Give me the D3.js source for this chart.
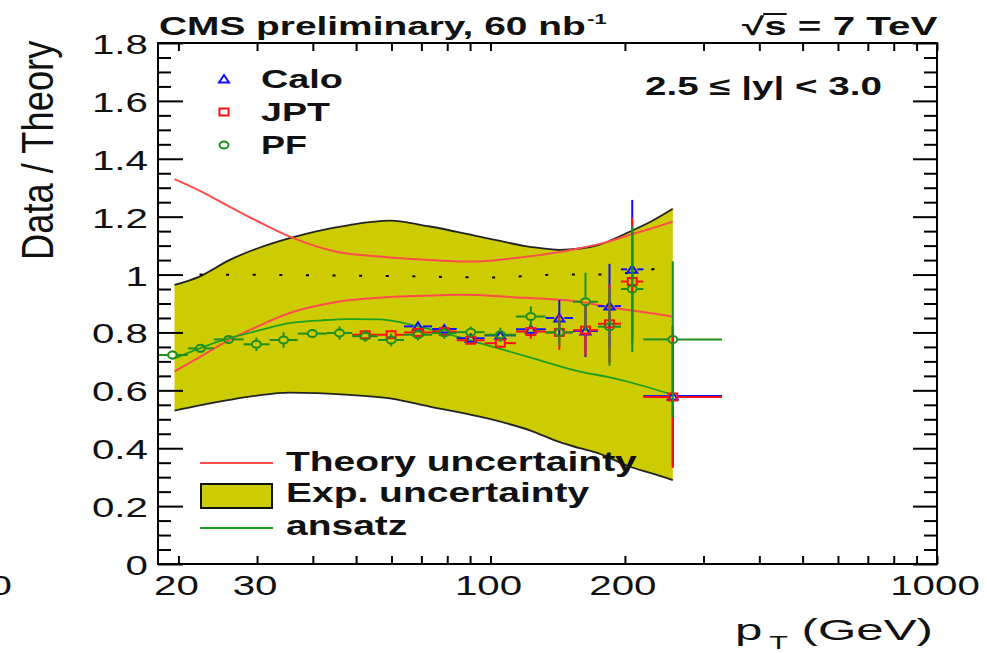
<!DOCTYPE html>
<html>
<head>
<meta charset="utf-8">
<script src="https://cdn.jsdelivr.net/npm/d3@7"></script>
<style>
  html, body { margin: 0; padding: 0; background: #fff; }
  svg { display: block; }
  text { font-family: "Liberation Sans", Arial, Helvetica, sans-serif; fill: #111; }
</style>
</head>
<body>
<svg id="chart" width="987" height="653"></svg>
<script>
// ---- pT binning (GeV) ----
const binLow    = [18, 21, 24, 28, 32, 37, 43, 49, 56, 64, 74, 84, 97, 114, 133, 153, 174, 196, 220];
const binHigh   = [21, 24, 28, 32, 37, 43, 49, 56, 64, 74, 84, 97, 114, 133, 153, 174, 196, 220, 330];
const binCenter = [19.4, 22.4, 25.9, 29.9, 34.4, 39.9, 45.9, 52.4, 59.9, 68.8, 78.8, 90.3, 105.2, 123.1, 142.6, 163.2, 184.7, 207.7, 256];

// ---- Data / Theory ratios per jet type ----
const caloValue = [null, null, null, null, null, null, null, null, null,
  0.821, 0.812, 0.780, 0.790, 0.811, 0.850, 0.805, 0.891, 1.018, 0.580];
const caloError = [null, null, null, null, null, null, null, null, null,
  0.010, 0.010, 0.012, 0.012, 0.020, 0.062, 0.090, 0.146, 0.240, 0.243];
const jptValue = [null, null, null, null, null, null, null,
  0.792, 0.792, 0.800, 0.803, 0.773, 0.763, 0.803, 0.800, 0.808, 0.830, 0.976, 0.577];
const jptError = [null, null, null, null, null, null, null,
  0.010, 0.012, 0.012, 0.012, 0.012, 0.017, 0.025, 0.060, 0.088, 0.135, 0.220, 0.245];
const pfValue = [0.722, 0.745, 0.776, 0.759, 0.774, 0.796, 0.798, 0.787, 0.774, 0.792,
  0.798, 0.801, 0.792, 0.855, 0.800, 0.906, 0.820, 0.950, 0.776];
const pfError = [0.016, 0.015, 0.015, 0.023, 0.027, 0.015, 0.023, 0.020, 0.022, 0.020,
  0.020, 0.020, 0.025, 0.035, 0.045, 0.100, 0.135, 0.218, 0.270];

// ---- Experimental uncertainty band ----
const bandPt  = [19.6, 22.3, 26.0, 30, 35.5, 48.3, 59.5, 73.1, 94.6, 122.5, 143, 158.5, 174, 205, 230, 256];
const bandUp  = [0.964, 0.993, 1.05, 1.09, 1.126, 1.171, 1.186, 1.166, 1.131, 1.096, 1.085, 1.09, 1.102, 1.148, 1.185, 1.227];
const bandLow = [0.530, 0.548, 0.567, 0.582, 0.592, 0.584, 0.572, 0.544, 0.509, 0.462, 0.421, 0.400, 0.383, 0.336, 0.313, 0.290];

// ---- Theory uncertainty envelope ----
const theoryPt  = [19.6, 22.3, 26.0, 30, 35.5, 45.2, 56.5, 62.9, 75, 86.7, 100, 112.2, 129.6, 158.5, 182, 205, 230, 256];
const theoryUp  = [1.33, 1.29, 1.235, 1.185, 1.131, 1.079, 1.062, 1.056, 1.049, 1.045, 1.048, 1.056, 1.068, 1.091, 1.112, 1.137, 1.160, 1.183];
const theoryLow = [0.665, 0.715, 0.774, 0.82, 0.867, 0.905, 0.92, 0.924, 0.928, 0.930, 0.927, 0.922, 0.917, 0.906, 0.889, 0.877, 0.866, 0.855];

// ---- Ansatz fit ----
const ansatzPt  = [19.6, 22.3, 26, 30, 35.5, 42, 48.3, 56.5, 62.9, 70, 80, 94.6, 122.5, 158.5, 182, 220, 256];
const ansatzVal = [0.71, 0.745, 0.78, 0.805, 0.832, 0.842, 0.846, 0.845, 0.835, 0.818, 0.795, 0.763, 0.714, 0.665, 0.647, 0.615, 0.584];

// ---- Unity reference (dotted) ----
const refPt  = [22.3, 60, 100, 145, 180, 235];
const refVal = [1.0, 0.995, 0.99, 1.0, 1.0, 1.02];

// ---- Axis ticks ----
const xTickValues = [20, 30, 40, 50, 60, 70, 80, 90, 100, 200, 300, 400, 500, 600, 700, 800, 900, 1000];
const xTickLabels = [20, 30, 100, 200, 1000];
const yMajorTicks = [0, 0.2, 0.4, 0.6, 0.8, 1.0, 1.2, 1.4, 1.6, 1.8];
const yMinorTicks = d3.range(0, 37).map(i => i * 0.05).filter(v => Math.abs(v * 5 - Math.round(v * 5)) > 1e-6);
const yTickText = d => (d === 0 ? "0" : d === 1 ? "1" : d3.format(".1f")(d));

const svg = d3.select("#chart");
const L = 158, R = 937, T = 43, B = 564;
const x = d3.scaleLog().domain([18, 1000]).range([L, R]);
const y = d3.scaleLinear().domain([0, 1.8]).range([B, T]);

const COLORS = { calo: "#1010ff", jpt: "#ff1010", pf: "#1e8f1e", band: "#cccc00", theory: "#ff4d4d", ansatz: "#1f9f1f" };
const LABEL_SX = 1.44;

// Place a text so that its box spans [x0, x1] horizontally, baseline at yb.
function fitText(parent, parts, x0, x1, yb, size, weight) {
  const t = parent.append("text").attr("font-size", size).attr("font-weight", weight || "normal");
  parts.forEach(p => {
    const s = t.append("tspan").text(p.t);
    if (p.size) s.attr("font-size", p.size);
    if (p.dy) s.attr("dy", p.dy);
    if (p.dx) s.attr("dx", p.dx);
  });
  const bb = t.node().getBBox();
  const sx = (x1 - x0) / bb.width;
  const tx = x0 - bb.x * sx;
  t.attr("transform", `translate(${tx},${yb}) scale(${sx},1)`);
  return { node: t, sx, tx };
}

const plot = svg.append("g");

// Experimental band
const bandData = bandPt.map((p, i) => ({ p, lo: bandLow[i], hi: bandUp[i] }));
plot.append("path").datum(bandData)
  .attr("fill", COLORS.band)
  .attr("d", d3.area().x(d => x(d.p)).y0(d => y(d.lo)).y1(d => y(d.hi)).curve(d3.curveMonotoneX));
["hi", "lo"].forEach(k => {
  plot.append("path").datum(bandData)
    .attr("fill", "none").attr("stroke", "#222").attr("stroke-width", 1.8)
    .attr("d", d3.line().x(d => x(d.p)).y(d => y(d[k])).curve(d3.curveMonotoneX));
});

// Theory envelope
[theoryUp, theoryLow].forEach(arr => {
  plot.append("path").datum(theoryPt.map((p, i) => [p, arr[i]]))
    .attr("fill", "none").attr("stroke", COLORS.theory).attr("stroke-width", 2)
    .attr("d", d3.line().x(d => x(d[0])).y(d => y(d[1])).curve(d3.curveMonotoneX));
});

// Ansatz
plot.append("path").datum(ansatzPt.map((p, i) => [p, ansatzVal[i]]))
  .attr("fill", "none").attr("stroke", COLORS.ansatz).attr("stroke-width", 1.8)
  .attr("d", d3.line().x(d => x(d[0])).y(d => y(d[1])).curve(d3.curveMonotoneX));

// Unity reference
plot.append("path").datum(refPt.map((p, i) => [p, refVal[i]]))
  .attr("fill", "none").attr("stroke", "#000").attr("stroke-width", 2)
  .attr("stroke-dasharray", "3,23.6")
  .attr("d", d3.line().x(d => x(d[0])).y(d => y(d[1])).curve(d3.curveMonotoneX));

// Markers
function drawMarker(g, kind, cx, cy, color) {
  if (kind === "square") {
    g.append("rect").attr("x", cx - 4.5).attr("y", cy - 3.5).attr("width", 9).attr("height", 7)
      .attr("fill", "none").attr("stroke", color).attr("stroke-width", 2);
  } else if (kind === "circle") {
    g.append("ellipse").attr("cx", cx).attr("cy", cy).attr("rx", 4.5).attr("ry", 3.5)
      .attr("fill", "none").attr("stroke", color).attr("stroke-width", 2);
  } else {
    g.append("path").attr("d", `M${cx - 5},${cy + 3.5}L${cx + 5},${cy + 3.5}L${cx},${cy - 4}Z`)
      .attr("fill", "none").attr("stroke", color).attr("stroke-width", 2);
  }
}

function drawSeries(vals, errs, color, kind) {
  const g = plot.append("g").attr("stroke", color).attr("stroke-width", 2);
  const seg = (x1, y1, x2, y2) => g.append("line").attr("x1", x1).attr("y1", y1).attr("x2", x2).attr("y2", y2);
  vals.forEach((v, i) => {
    if (v == null) return;
    const cx = x(binCenter[i]), cy = y(v);
    const xl = x(binLow[i]), xh = x(binHigh[i]);
    const yt = y(v + errs[i]), yb = y(v - errs[i]);
    const hw = 5, hh = 4;
    if (cx - hw > xl) seg(xl, cy, cx - hw, cy);
    if (xh > cx + hw) seg(cx + hw, cy, xh, cy);
    if (yt < cy - hh) seg(cx, yt, cx, cy - hh);
    if (yb > cy + hh) seg(cx, cy + hh, cx, yb);
    drawMarker(g, kind, cx, cy, color);
  });
}
drawSeries(caloValue, caloError, COLORS.calo, "triangle");
drawSeries(jptValue, jptError, COLORS.jpt, "square");
drawSeries(pfValue, pfError, COLORS.pf, "circle");

// Axes (ticks drawn inward, all four sides)
const axes = svg.append("g");
function styleAxis(sel) {
  sel.select(".domain").remove();
  sel.selectAll(".tick line").attr("stroke", "#000").attr("stroke-width", 2);
  sel.selectAll(".tick text").remove();
}
axes.append("g").attr("transform", `translate(0,${B})`)
  .call(d3.axisBottom(x).tickValues(xTickValues).tickSize(-8).tickFormat("")).call(styleAxis);
axes.append("g").attr("transform", `translate(0,${T})`)
  .call(d3.axisTop(x).tickValues(xTickValues).tickSize(-8).tickFormat("")).call(styleAxis);
axes.append("g").attr("transform", `translate(${L},0)`)
  .call(d3.axisLeft(y).tickValues(yMajorTicks).tickSize(-25).tickFormat("")).call(styleAxis);
axes.append("g").attr("transform", `translate(${L},0)`)
  .call(d3.axisLeft(y).tickValues(yMinorTicks).tickSize(-13).tickFormat("")).call(styleAxis);
axes.append("g").attr("transform", `translate(${R},0)`)
  .call(d3.axisRight(y).tickValues(yMajorTicks).tickSize(-24).tickFormat("")).call(styleAxis);
axes.append("g").attr("transform", `translate(${R},0)`)
  .call(d3.axisRight(y).tickValues(yMinorTicks).tickSize(-13).tickFormat("")).call(styleAxis);
axes.append("rect").attr("x", L).attr("y", T).attr("width", R - L).attr("height", B - T)
  .attr("fill", "none").attr("stroke", "#000").attr("stroke-width", 2);

// Tick labels
const labels = svg.append("g");
yMajorTicks.forEach(v => {
  labels.append("text").attr("font-size", 28).attr("text-anchor", "end")
    .attr("transform", `translate(148,${y(v) + 11}) scale(${LABEL_SX},1)`).text(yTickText(v));
});
xTickLabels.forEach(v => {
  labels.append("text").attr("font-size", 28).attr("text-anchor", "middle")
    .attr("transform", `translate(${x(v) - 2},595) scale(${LABEL_SX},1)`).text(v);
});
labels.append("text").attr("font-size", 28).attr("text-anchor", "end")
  .attr("transform", `translate(12,595) scale(${LABEL_SX},1)`).text("10");

// Axis titles
fitText(labels, [{ t: "p" }, { t: "T", size: 18, dy: 9, dx: 4 }, { t: " (GeV)", dy: -9 }], 735, 933, 640, 29);
{
  const t = labels.append("text").attr("font-size", 29).text("Data / Theory");
  const bb = t.node().getBBox();
  const sa = 220 / bb.width;
  t.attr("transform", `translate(53,${260 + sa * bb.x}) rotate(-90) scale(${sa},1.5)`);
}

// Header texts
fitText(labels, [{ t: "CMS preliminary, 60 nb" }, { t: "-1", size: 14, dy: -11, dx: 1 }], 159, 607, 35, 25, "bold");
{
  const r = fitText(labels, [{ t: "\u221As = 7 TeV" }], 742, 938, 35, 25, "bold");
  const n = r.node.node();
  const e0 = n.getExtentOfChar(0), e1 = n.getExtentOfChar(1);
  labels.append("line")
    .attr("x1", r.tx + r.sx * (e0.x + e0.width) - 1).attr("x2", r.tx + r.sx * (e1.x + e1.width))
    .attr("y1", 14).attr("y2", 14).attr("stroke", "#111").attr("stroke-width", 2);
}
fitText(labels, [{ t: "2.5 \u2264 |y| < 3.0" }], 645, 882, 95, 25, "bold");

// Marker legend
const leg = svg.append("g");
const markerLegend = [
  { name: "Calo", kind: "triangle", color: COLORS.calo, yb: 88, x1: 343 },
  { name: "JPT", kind: "square", color: COLORS.jpt, yb: 121, x1: 330 },
  { name: "PF", kind: "circle", color: COLORS.pf, yb: 154, x1: 307 }
];
markerLegend.forEach(d => {
  drawMarker(leg, d.kind, 224, d.yb - 9, d.color);
  fitText(leg, [{ t: d.name }], 261, d.x1, d.yb, 25, "bold");
});

// Band / curve legend
leg.append("line").attr("x1", 200).attr("x2", 273).attr("y1", 463).attr("y2", 463)
  .attr("stroke", COLORS.theory).attr("stroke-width", 2);
leg.append("rect").attr("x", 201).attr("y", 484).attr("width", 71).attr("height", 24)
  .attr("fill", COLORS.band).attr("stroke", "#111").attr("stroke-width", 2);
leg.append("line").attr("x1", 200).attr("x2", 273).attr("y1", 528).attr("y2", 528)
  .attr("stroke", COLORS.ansatz).attr("stroke-width", 2);
const first = fitText(leg, [{ t: "Theory uncertainty" }], 286, 637, 471, 27, "bold");
[["Exp. uncertainty", 502], ["ansatz", 535]].forEach(([s, yb]) => {
  const t = leg.append("text").attr("font-size", 27).attr("font-weight", "bold").text(s);
  t.attr("transform", `translate(${first.tx},${yb}) scale(${first.sx},1)`);
});
</script>
</body>
</html>
